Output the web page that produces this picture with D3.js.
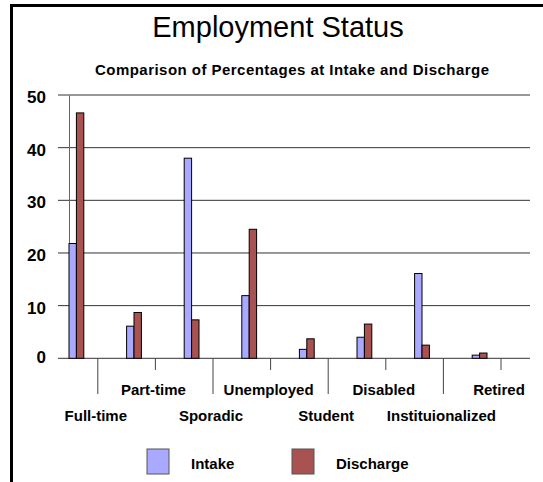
<!DOCTYPE html>
<html>
<head>
<meta charset="utf-8">
<script src="https://cdn.jsdelivr.net/npm/d3@7"></script>
<style>
  body { margin: 0; background: #fff; }
  svg { display: block; font-family: "Liberation Sans", Arial, sans-serif; }
</style>
</head>
<body>
<div class="chart"></div>
<script>
// Chart data
var categories = ["Full-time", "Part-time", "Sporadic", "Unemployed", "Student", "Disabled", "Instituionalized", "Retired"];
var intake = [21.8, 6.1, 38.0, 11.9, 1.7, 4.0, 16.1, 0.6];
var discharge = [46.6, 8.7, 7.3, 24.5, 3.7, 6.5, 2.5, 1.0];
var seriesNames = ["Intake", "Discharge"];
var yTicks = [0, 10, 20, 30, 40, 50];

var colors = { "Intake": "#a9a9ff", "Discharge": "#a85252" };

var svgWidth = 543;
var svgHeight = 482;

var svg = d3.select(".chart")
            .append("svg")
            .attr("width", svgWidth)
            .attr("height", svgHeight);

// Frame (top and left border only)
svg.append("line")
   .attr("x1", 10).attr("x2", 543).attr("y1", 5.5).attr("y2", 5.5)
   .attr("stroke", "#000").attr("stroke-width", 3);
svg.append("line")
   .attr("x1", 11.5).attr("x2", 11.5).attr("y1", 4).attr("y2", 482)
   .attr("stroke", "#000").attr("stroke-width", 3);

// Titles
svg.append("text")
   .attr("x", 278).attr("y", 37)
   .attr("text-anchor", "middle")
   .style("font-size", "29px")
   .text("Employment Status");
svg.append("text")
   .attr("x", 292).attr("y", 75)
   .attr("text-anchor", "middle")
   .attr("textLength", 394)
   .attr("lengthAdjust", "spacing")
   .style("font-size", "15px").style("font-weight", "bold")
   .text("Comparison of Percentages at Intake and Discharge");

// Scales
var xScale = d3.scaleBand()
               .domain(categories)
               .range([69, 529.8])
               .padding(0);
var xSub = d3.scaleBand()
             .domain(seriesNames)
             .range([0, 14.8]);
var yScale = d3.scaleLinear()
               .domain([0, 50])
               .range([358.3, 95]);

// Gridlines
svg.append("g")
   .selectAll("line")
   .data(yTicks)
   .enter()
   .append("line")
   .attr("x1", 58).attr("x2", 530)
   .attr("y1", d => yScale(d)).attr("y2", d => yScale(d))
   .attr("stroke", "#333").attr("stroke-width", 1);

// Y axis
var leftAxis = d3.axisLeft(yScale).tickValues(yTicks).tickSize(0).tickPadding(0);
var yAxis = svg.append("g")
               .attr("transform", "translate(69,0)")
               .call(leftAxis);
yAxis.select(".domain").attr("stroke", "#666");
yAxis.selectAll("text")
     .attr("x", -23)
     .attr("dy", d => d === 0 ? "0.25em" : "0.45em")
     .attr("fill", "#000")
     .style("font-family", "'Liberation Sans', Arial, sans-serif")
     .style("font-size", "17px")
     .style("font-weight", "bold");

// Bars
var rows = categories.map(function(c, i) {
    return { cat: c, values: [
        { name: "Intake", value: intake[i] },
        { name: "Discharge", value: discharge[i] }
    ] };
});

var groups = svg.append("g")
                .selectAll("g")
                .data(rows)
                .enter()
                .append("g")
                .attr("transform", d => `translate(${xScale(d.cat)},0)`);

groups.selectAll("rect")
      .data(d => d.values)
      .enter()
      .append("rect")
      .attr("x", d => xSub(d.name))
      .attr("y", d => yScale(d.value))
      .attr("width", xSub.bandwidth())
      .attr("height", d => yScale(0) - yScale(d.value))
      .attr("fill", d => colors[d.name])
      .attr("stroke", "#000")
      .attr("stroke-width", 1);

// Category ticks and labels (alternating rows)
var catTicks = svg.append("g")
                  .selectAll("g")
                  .data(categories)
                  .enter()
                  .append("g")
                  .attr("transform", d => `translate(${xScale(d) + xScale.bandwidth() / 2},0)`);

catTicks.append("line")
        .attr("x1", 0).attr("x2", 0)
        .attr("y1", 358.3)
        .attr("y2", (d, i) => i % 2 === 0 ? 394 : 370)
        .attr("stroke", "#444");

catTicks.append("text")
        .attr("x", -2)
        .attr("y", (d, i) => i % 2 === 0 ? 421 : 395)
        .attr("text-anchor", "middle")
        .style("font-size", "15px")
        .style("font-weight", "bold")
        .text(d => d);

// Legend
var legendX = [147, 292];
var legend = svg.append("g")
                .selectAll("g")
                .data(seriesNames)
                .enter()
                .append("g")
                .attr("transform", (d, i) => `translate(${legendX[i]},449)`);

legend.append("rect")
      .attr("width", 22).attr("height", 25)
      .attr("fill", d => colors[d])
      .attr("stroke", "#555");

legend.append("text")
      .attr("x", 44).attr("y", 20)
      .style("font-size", "15px")
      .style("font-weight", "bold")
      .text(d => d);
</script>
</body>
</html>
